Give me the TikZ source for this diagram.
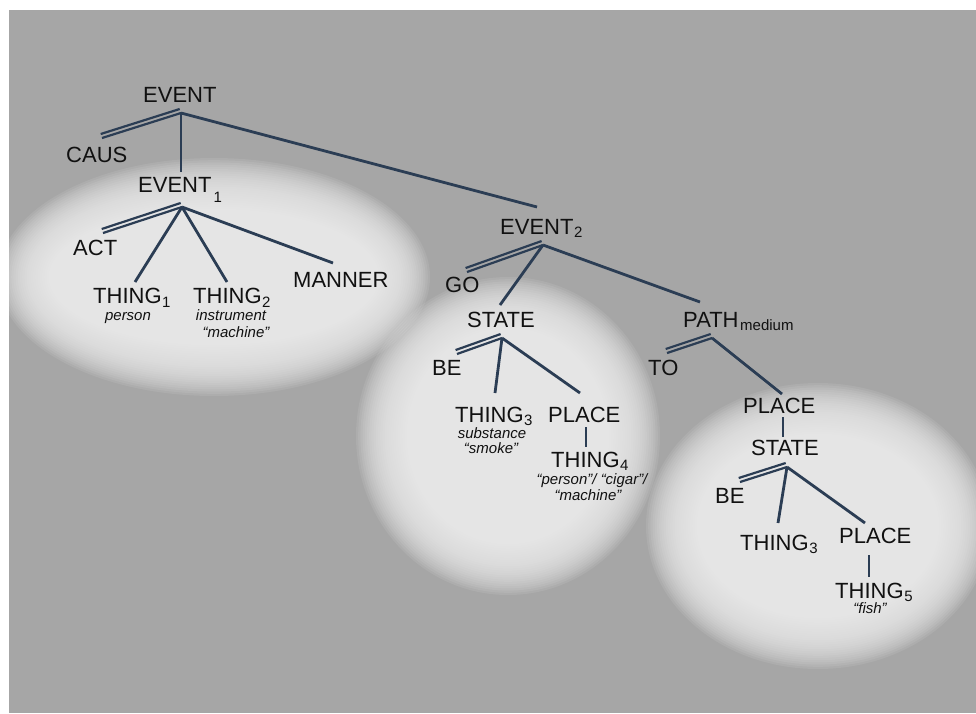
\documentclass[tikz,border=0pt]{standalone}
\usepackage{fontspec}
\setmainfont{Liberation Sans}
\usetikzlibrary{calc}

\definecolor{bggray}{HTML}{A6A6A6}
\definecolor{glowcol}{HTML}{EEEEEE}
\definecolor{linecol}{HTML}{2B3D54}
\definecolor{textcol}{HTML}{111111}

\newcommand\lowsub[2][4pt]{\kern0.6pt\raisebox{-#1}{\fontsize{15}{15}\selectfont #2}}

% soft light spot: stacked translucent ellipses, the rim blurred by a
% constant width all round; #1,#2 centre, #3,#4 radii of the rim
\newcommand\glowspot[4]{%
  \foreach \k in {0,...,29}{%
    \pgfmathsetmacro\dd{22-2.2*\k}%
    \fill[glowcol, opacity=0.1] (#1,#2) ellipse [x radius={#3+\dd}, y radius={#4+\dd}];
  }}

\tikzset{
  lab/.style={font=\fontsize{22}{22}\selectfont, inner sep=0pt, text height=16pt,
              text depth=0pt, anchor=base west, text=textcol},
  note/.style={font=\fontsize{15}{15}\selectfont\itshape, inner sep=0pt, anchor=base, text=textcol},
  branch/.style={draw=linecol, line width=2.8pt},
  strand/.style={draw=linecol, line width=2.2pt}
}

% two parallel strands from a junction to an end point
\newcommand\dblline[2]{%
  \draw[strand] (#1) -- (#2);
  \draw[strand] ($(#1)!4.2pt!-90:(#2)$) -- ($(#2)!4.2pt!90:(#1)$);}

\begin{document}
\begin{tikzpicture}[x=1pt,y=-1pt]
\useasboundingbox (0,0) rectangle (976,713);
\fill[white] (0,0) rectangle (976,713);
\fill[bggray] (9,10) rectangle (976,713);

% light spots behind the three sub-trees
\begin{scope}
\clip (9,10) rectangle (976,713);
\glowspot{214}{277}{194}{97}
\glowspot{508}{436}{130}{137}
\glowspot{818}{526}{150}{121}
\end{scope}

% ---- labels ----
\node[lab] (event)   at (143,102) {EVENT};
\node[lab] (caus)    at (66,162)  {CAUS};
\node[lab] (eventA)  at (138,192) {EVENT\kern1.5pt\lowsub[10pt]{1}};
\node[lab] (act)     at (73,255)  {ACT};
\node[lab] (thingA)  at (93,303)  {THING\lowsub{1}};
\node[note] (person) at (128,320) {person};
\node[lab] (thingB)  at (193,303) {THING\lowsub{2}};
\node[note] (instr)  at (231,320) {instrument};
\node[note] (machA)  at (236,337) {“machine”};
\node[lab] (manner)  at (293,287) {MANNER};

\node[lab] (eventB)  at (500,234) {EVENT\lowsub[3pt]{2}};
\node[lab] (go)      at (445,292) {GO};
\node[lab] (stateA)  at (467,327) {STATE};
\node[lab] (path)    at (683,327) {PATH\kern1pt\lowsub[3pt]{medium}};
\node[lab] (beA)     at (432,375) {BE};
\node[lab] (to)      at (648,375) {TO};
\node[lab] (thingC)  at (455,422) {THING\lowsub[3pt]{3}};
\node[note] (subst)  at (492,438) {substance};
\node[note] (smoke)  at (491,453) {“smoke”};
\node[lab] (placeA)  at (548,422) {PLACE};
\node[lab] (thingD)  at (551,467) {THING\lowsub[3pt]{4}};
\node[note] (pcm)    at (592,484) {“person”/ “cigar”/};
\node[note] (machB)  at (588,500) {“machine”};

\node[lab] (placeB)  at (743,413) {PLACE};
\node[lab] (stateB)  at (751,455) {STATE};
\node[lab] (beB)     at (715,503) {BE};
\node[lab] (thingE)  at (740,550) {THING\lowsub[3pt]{3}};
\node[lab] (placeC)  at (839,543) {PLACE};
\node[lab] (thingF)  at (835,598) {THING\lowsub[3pt]{5}};
\node[note] (fish)   at (870,613) {“fish”};

% ---- junctions under the parents and ends above the children ----
\coordinate (j-event)  at (181,113);
\coordinate (e-caus)   at (102,138);
\coordinate (e-eventA) at (181,172);
\coordinate (e-eventB) at (537,207);

\coordinate (j-eventA) at (182,207);
\coordinate (e-act)    at (103,233);
\coordinate (e-thingA) at (135,282);
\coordinate (e-thingB) at (227,282);
\coordinate (e-manner) at (333,263);

\coordinate (j-eventB) at (543,245);
\coordinate (e-go)     at (467,272);
\coordinate (e-stateA) at (500,305);
\coordinate (e-path)   at (700,302);

\coordinate (j-stateA) at (502,338);
\coordinate (e-beA)    at (457,354);
\coordinate (e-thingC) at (495,393);
\coordinate (e-placeA) at (580,393);
\coordinate (s-placeA) at (586,427);
\coordinate (e-thingD) at (586,447);

\coordinate (j-path)   at (712,338);
\coordinate (e-to)     at (667,353);
\coordinate (e-placeB) at (782,394);
\coordinate (s-placeB) at (783,417);
\coordinate (e-stateB) at (783,437);

\coordinate (j-stateB) at (787,467);
\coordinate (e-beB)    at (740,482);
\coordinate (e-thingE) at (778,523);
\coordinate (e-placeC) at (865,523);
\coordinate (s-placeC) at (869,555);
\coordinate (e-thingF) at (869,577);

% ---- branches ----
\dblline{j-event}{e-caus}
\draw[branch] (j-event) -- (e-eventA);
\draw[branch] (j-event) -- (e-eventB);

\dblline{j-eventA}{e-act}
\draw[branch] (j-eventA) -- (e-thingA);
\draw[branch] (j-eventA) -- (e-thingB);
\draw[branch] (j-eventA) -- (e-manner);

\dblline{j-eventB}{e-go}
\draw[branch] (j-eventB) -- (e-stateA);
\draw[branch] (j-eventB) -- (e-path);

\dblline{j-stateA}{e-beA}
\draw[branch] (j-stateA) -- (e-thingC);
\draw[branch] (j-stateA) -- (e-placeA);
\draw[branch] (s-placeA) -- (e-thingD);

\dblline{j-path}{e-to}
\draw[branch] (j-path) -- (e-placeB);
\draw[branch] (s-placeB) -- (e-stateB);

\dblline{j-stateB}{e-beB}
\draw[branch] (j-stateB) -- (e-thingE);
\draw[branch] (j-stateB) -- (e-placeC);
\draw[branch] (s-placeC) -- (e-thingF);
\end{tikzpicture}
\end{document}
